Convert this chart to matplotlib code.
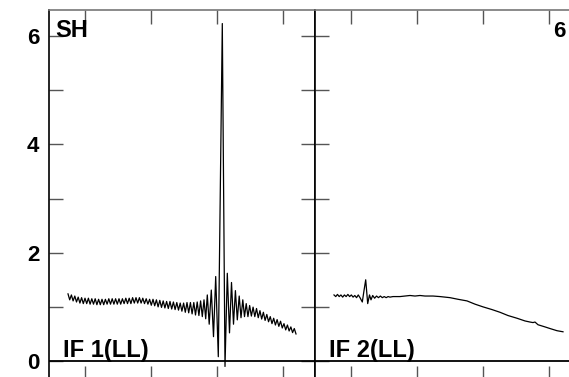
import numpy as np
import matplotlib
matplotlib.use("Agg")
import matplotlib.pyplot as plt

plt.rcParams['font.family'] = ['Liberation Sans', 'DejaVu Sans']

# ---------------- data ----------------
# Left panel (IF 1(LL)) : x positions in panel units (0..266)
left_a_range = (19.0, 155.0)
left_a_vals = [1.24, 1.13, 1.22, 1.11, 1.20, 1.09, 1.18, 1.07, 1.17, 1.06,
               1.16, 1.06, 1.16, 1.05, 1.15, 1.05, 1.15, 1.04, 1.14, 1.04,
               1.14, 1.04, 1.14, 1.05, 1.15, 1.05, 1.15, 1.05, 1.15, 1.05,
               1.15, 1.05, 1.15, 1.06, 1.16, 1.06, 1.16, 1.06, 1.17, 1.07,
               1.17, 1.07, 1.17, 1.07, 1.16, 1.06, 1.15, 1.05, 1.14, 1.03,
               1.14, 1.02, 1.13, 1.00, 1.12, 0.99, 1.11, 0.98, 1.10, 0.97,
               1.10, 0.96, 1.09, 0.95, 1.08, 0.94, 1.07, 0.92, 1.07, 0.90,
               1.08, 0.89, 1.08, 0.87, 1.08, 0.85, 1.09, 0.84, 1.11, 0.82,
               1.13]
left_b_x = [156.7, 158.3, 160.2, 162.3, 164.5, 166.7, 169.3, 173.3, 176.0,
            178.3, 180.5, 182.5, 184.5, 186.4, 188.3, 190.2, 192.0, 193.8]
left_b_vals = [0.78, 1.22, 0.68, 1.31, 0.45, 1.56, 0.08, 6.23, -0.10,
               1.62, 0.52, 1.45, 0.68, 1.30, 0.76, 1.20, 0.80, 1.13]
left_c_range = (195.5, 247.0)
left_c_vals = [0.82, 1.06, 0.82, 1.025, 0.83, 0.995, 0.82, 0.97, 0.80, 0.93,
               0.775, 0.90, 0.75, 0.86, 0.725, 0.82, 0.69, 0.79, 0.665, 0.765,
               0.64, 0.735, 0.61, 0.69, 0.575, 0.665, 0.555, 0.63, 0.525, 0.60,
               0.50]

# Right panel (IF 2(LL))
right_a_range = (19.0, 45.0)
right_a_vals = [1.22, 1.19, 1.23, 1.19, 1.22, 1.18, 1.22, 1.19, 1.23, 1.19,
                1.22, 1.18, 1.21, 1.17, 1.22, 1.17]
right_b_x = [47.3, 49.0, 50.7, 52.7, 54.5, 56.0]
right_b_vals = [1.09, 1.30, 1.50, 1.06, 1.22, 1.13]
right_c_range = (57.7, 75.0)
right_c_vals = [1.21, 1.16, 1.20, 1.17, 1.20, 1.17, 1.19, 1.17, 1.19, 1.18]
right_d_x = [78, 85, 90, 95, 100, 105, 110, 118, 125, 135, 143, 152, 160,
             168, 177, 185, 193, 202, 210, 215, 218, 220, 223, 230, 235, 242,
             248]
right_d_vals = [1.19, 1.19, 1.20, 1.21, 1.20, 1.21, 1.20, 1.20, 1.19, 1.17,
                1.14, 1.11, 1.05, 1.00, 0.95, 0.90, 0.84, 0.79, 0.74, 0.72,
                0.71, 0.72, 0.67, 0.63, 0.60, 0.56, 0.54]

panel_labels = ["IF 1(LL)", "IF 2(LL)"]
corner_left = "SH"
corner_right = "6"
ytick_major = [0, 2, 4, 6]
ytick_minor = [1, 3, 5]
xtick_pos = [36, 102, 168, 234]

# ---------------- build series ----------------
lx = np.concatenate([np.linspace(*left_a_range, len(left_a_vals)),
                     np.array(left_b_x),
                     np.linspace(*left_c_range, len(left_c_vals))])
ly = np.concatenate([left_a_vals, left_b_vals, left_c_vals])
rx = np.concatenate([np.linspace(*right_a_range, len(right_a_vals)),
                     np.array(right_b_x),
                     np.linspace(*right_c_range, len(right_c_vals)),
                     np.array(right_d_x)])
ry = np.concatenate([right_a_vals, right_b_vals, right_c_vals, right_d_vals])

# ---------------- figure ----------------
W, H = 569, 377
fig = plt.figure(figsize=(W / 100, H / 100), dpi=100)
bottom = 1 - 380 / H
height = (380 - 10) / H
axL = fig.add_axes([49 / W, bottom, 266 / W, height])
axR = fig.add_axes([315 / W, bottom, 266 / W, height])

ymin, ymax = -0.35, 6.48
for ax, x, y, lab in [(axL, lx, ly, panel_labels[0]), (axR, rx, ry, panel_labels[1])]:
    ax.plot(x, y, color='black', lw=0.9)
    ax.axhline(0, color='black', lw=1.3)
    ax.set_xlim(0, 266)
    ax.set_ylim(ymin, ymax)
    ax.set_xticks(xtick_pos)
    ax.set_xticklabels([])
    ax.set_yticks(ytick_major)
    ax.set_yticks(ytick_minor, minor=True)
    ax.tick_params(which='both', direction='in', length=10, width=1.0,
                   color='#555555', top=True, bottom=True, left=True, right=True)
    ax.spines['top'].set_color('#777777')
    ax.spines['top'].set_linewidth(1.2)
    for s in ['left', 'right', 'bottom']:
        ax.spines[s].set_color('black')
        ax.spines[s].set_linewidth(1.2)
    ax.text(14, 0.075, lab, fontsize=17, fontweight='bold', ha='left', va='baseline')

axL.set_yticklabels([str(v) for v in ytick_major], fontsize=16, fontweight='bold')
axL.tick_params(axis='y', pad=7)
axR.set_yticklabels([])
axR.tick_params(axis='y', which='both', right=False)
axL.text(6, 5.98, corner_left, fontsize=17, fontweight='bold', ha='left', va='baseline')
axR.text(251, 5.98, corner_right, fontsize=16, fontweight='bold', ha='right', va='baseline')

fig.savefig('out.png', dpi=100)
